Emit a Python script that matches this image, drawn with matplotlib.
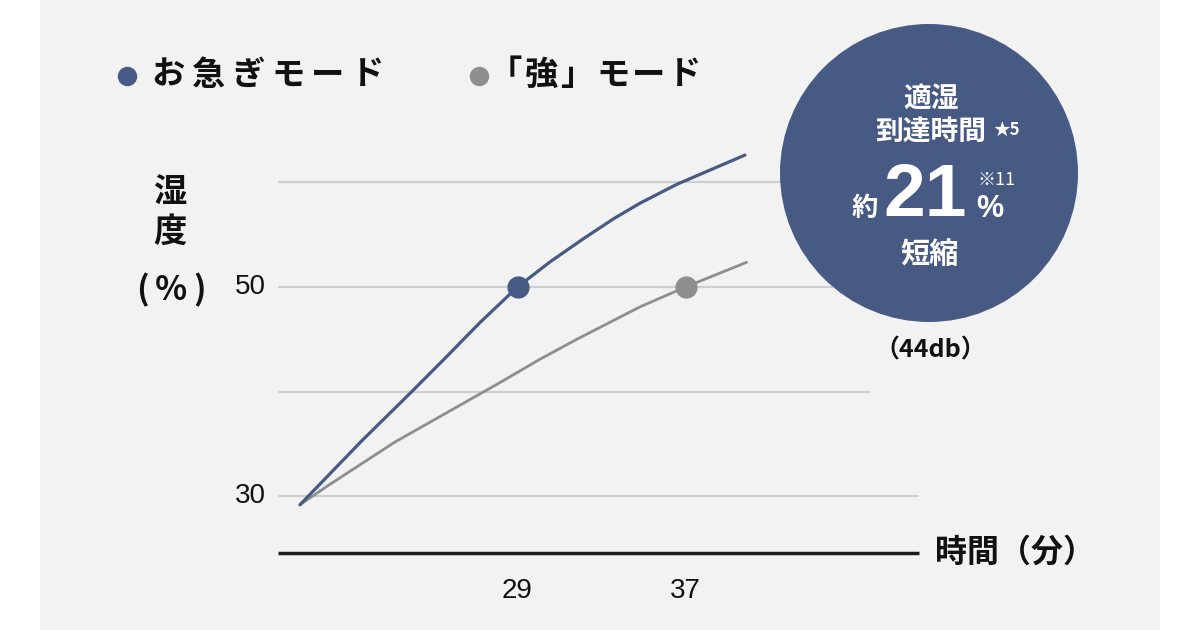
import matplotlib.pyplot as plt
from matplotlib.patches import Rectangle, Circle

plt.rcParams['font.family'] = ['Noto Sans CJK JP', 'DejaVu Sans']

# data (time in minutes, humidity in %)
quick_t = [18.64, 21.58, 23.96, 25.55, 27.21, 29.0, 30.55, 32.13, 33.56, 34.83, 36.58, 39.83]
quick_h = [29.2, 35.3, 40.0, 43.2, 46.6, 50.0, 52.4, 54.6, 56.5, 58.0, 59.8, 62.6]
strong_t = [18.64, 19.99, 23.17, 26.34, 27.93, 30.07, 31.82, 34.83, 37.0, 39.91]
strong_h = [29.2, 31.05, 35.2, 38.8, 40.6, 43.1, 45.0, 48.1, 50.0, 52.36]
quick_mark = (29, 50)
strong_mark = (37, 50)
x_ticks = [29, 37]
y_ticks = [30, 50]
grid_levels = [30, 40, 50, 60]
grid_ends = [48.1, 45.8, 44.0, 43.0]
series_names = ['お急ぎモード', '「強」モード']

BLUE = '#475a84'
GRAY = '#8e8e8e'
PANEL = '#f2f2f2'

W, H = 1200, 630
fig = plt.figure(figsize=(W / 100, H / 100), dpi=100)
fig.patch.set_facecolor('white')

# pixel mapping of the chart area
X0_PX, X_SCALE = 517.5, 21.0
Y0_PX, Y_SCALE = 287.0, 10.47

ax = fig.add_axes([0, 0, 1, 1])
ax.set_xlim(29 - X0_PX / X_SCALE, 29 + (W - X0_PX) / X_SCALE)
ax.set_ylim(50 - (H - Y0_PX) / Y_SCALE, 50 + Y0_PX / Y_SCALE)
ax.axis('off')
ax.add_patch(Rectangle((40 / W, 0), 1120 / W, 1, transform=ax.transAxes,
                       facecolor=PANEL, edgecolor='none', zorder=0))

x_start = 17.6
for lvl, end in zip(grid_levels, grid_ends):
    ax.hlines(lvl, x_start, end, color='#cfcfcf', lw=1.6, zorder=1)
ax.hlines(24.6, x_start, 48.1, color='#1e1e1e', lw=2.5, zorder=2)

ax.plot(strong_t, strong_h, color=GRAY, lw=2.0, zorder=3,
        solid_capstyle='round', solid_joinstyle='round')
ax.plot(quick_t, quick_h, color=BLUE, lw=2.3, zorder=4,
        solid_capstyle='round', solid_joinstyle='round')
ax.plot(*strong_mark, 'o', color=GRAY, ms=16, mec='none', zorder=5)
ax.plot(*quick_mark, 'o', color=BLUE, ms=16, mec='none', zorder=5)

for t in x_ticks:
    ax.text(t, 21.0, str(t), ha='center', va='center', fontsize=20,
            family='Liberation Sans', color='#111')
for v in y_ticks:
    ax.text(16.3, v, str(v), ha='center', va='center', fontsize=20,
            family='Liberation Sans', color='#111')

# overlay in pixel coordinates for legend, labels and the badge
ov = fig.add_axes([0, 0, 1, 1], facecolor='none')
ov.set_xlim(0, W)
ov.set_ylim(H, 0)
ov.axis('off')


def spaced(x, y, s, step, **kw):
    for i, ch in enumerate(s):
        ov.text(x + i * step, y, ch, ha='center', va='center', **kw)


ov.plot(127, 76, 'o', color=BLUE, ms=14, mec='none')
spaced(168, 75, series_names[0], 40, fontsize=24, weight='bold', color='#111')
ov.plot(479, 76, 'o', color=GRAY, ms=14, mec='none')
spaced(505, 75, series_names[1], 36, fontsize=24, weight='bold', color='#111')

ov.text(170, 193, '湿', ha='center', va='center', fontsize=24, weight='bold', color='#111')
ov.text(170, 232, '度', ha='center', va='center', fontsize=24, weight='bold', color='#111')
spaced(142, 290, '(%)', 29, fontsize=24, weight='bold', color='#111')

ov.text(935, 553, '時間（分）', ha='left', va='center', fontsize=23,
        weight='bold', color='#111')

ov.add_patch(Circle((929, 173), 149, facecolor=BLUE, edgecolor='none', zorder=6))
wt = dict(color='white', weight='bold', zorder=7)
ov.text(931, 99, '適湿', ha='center', va='center', fontsize=20, **wt)
ov.text(931, 132, '到達時間', ha='center', va='center', fontsize=20, **wt)
ov.text(993, 130, '★5', ha='left', va='center', fontsize=12, **wt)
ov.text(865, 208, '約', ha='center', va='center', fontsize=19, **wt)
ov.text(925, 197, '21', ha='center', va='center', fontsize=54,
        family='Liberation Sans', **wt)
ov.text(977, 180, '※11', ha='left', va='center', fontsize=13, color='white', zorder=7)
ov.text(990, 209, '%', ha='center', va='center', fontsize=22,
        family='Liberation Sans', **wt)
ov.text(930, 254, '短縮', ha='center', va='center', fontsize=21, **wt)

ov.text(930, 351, '（44db）', ha='center', va='center', fontsize=18,
        weight='bold', color='#111')

fig.savefig('out.png', dpi=100, facecolor=fig.get_facecolor())
